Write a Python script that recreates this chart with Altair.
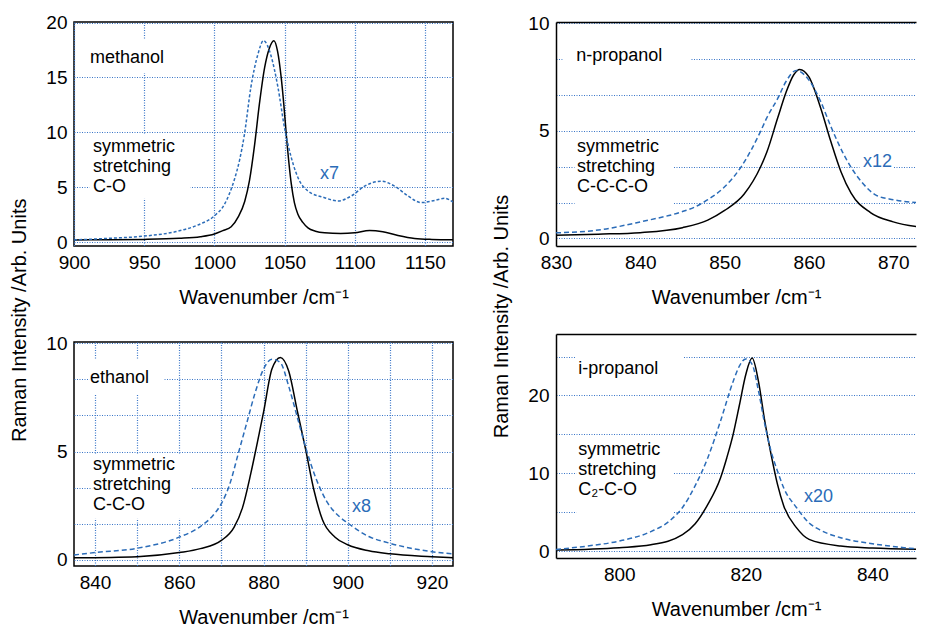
import altair as alt
import pandas as pd

FONT = "Liberation Sans"
BLUE = "#2b6cb8"
GRID = "#3a76c8"
YTITLE = "Raman Intensity /Arb. Units"
XTITLE = "Wavenumber /cm⁻¹"

# ---------------- methanol ----------------
meoh_solid_wn = [900, 925, 950, 975, 990, 1000, 1006, 1012, 1017, 1021.6, 1025, 1028.7, 1032, 1035.8,
                 1039, 1042.4, 1045, 1047.6, 1049.5, 1051.2, 1054.8, 1057, 1059.5, 1063, 1066.7, 1072,
                 1078.5, 1090, 1100, 1110.6, 1120, 1130.8, 1142.6, 1155, 1170]
meoh_solid_i = [0.2, 0.22, 0.25, 0.35, 0.5, 0.75, 1.05, 1.4, 2.3, 3.7, 5.6, 8.9, 12.5, 15.9,
                17.6, 18.35, 17.4, 15.0, 12.5, 9.85, 5.3, 3.6, 2.55, 1.8, 1.3, 1.0,
                0.85, 0.78, 0.85, 1.07, 0.95, 0.6, 0.33, 0.25, 0.22]
meoh_dash_wn = [900, 925, 950, 974, 988, 1000, 1007, 1014, 1018, 1021.4, 1026, 1031, 1035, 1040.3,
                1045.3, 1050, 1054.8, 1060.6, 1066.7, 1078.5, 1088, 1097.5, 1107, 1119, 1128.4, 1138,
                1147.4, 1157, 1164, 1170]
meoh_dash_i = [0.2, 0.35, 0.55, 1.0, 1.55, 2.4, 3.4, 5.6, 7.5, 9.8, 14.1, 17.1, 18.35, 17.0,
               14.1, 10.4, 7.7, 5.6, 4.65, 4.05, 3.75, 4.2, 5.1, 5.55, 5.1, 4.2,
               3.6, 3.8, 4.0, 3.65]

# ---------------- n-propanol ----------------
npr_solid_wn = [830, 835, 840, 845, 848, 850, 852.3, 854.3, 855, 856.3, 857.3, 858.2, 858.9, 860,
                861.4, 862.6, 863.8, 865, 867.3, 870, 873.7]
npr_solid_i = [0.15, 0.2, 0.27, 0.5, 0.85, 1.3, 2.05, 3.35, 4.0, 5.6, 6.8, 7.6, 7.85, 7.5,
               6.05, 4.5, 3.1, 2.1, 1.2, 0.77, 0.5]
npr_dash_wn = [830, 835, 840, 845, 846.4, 848, 850, 852, 854.3, 855, 856.3, 857.3, 858.5, 860, 861.4,
               862.6, 864, 865, 866.3, 868, 870, 873.7]
npr_dash_i = [0.26, 0.39, 0.77, 1.25, 1.45, 1.8, 2.4, 3.35, 5.0, 5.6, 6.5, 7.3, 7.8, 7.35, 6.35,
              5.2, 4.0, 3.3, 2.6, 2.0, 1.8, 1.65]

# ---------------- ethanol ----------------
eth_solid_wn = [835, 850, 860, 865, 870, 873, 875, 877, 879, 880, 882, 884, 886, 888, 890, 892,
                894, 897, 900, 905, 910, 920, 925]
eth_solid_i = [0.1, 0.15, 0.34, 0.52, 0.9, 1.5, 2.4, 4.0, 5.85, 6.8, 8.8, 9.34, 8.7, 6.9, 5.1, 3.2,
               1.85, 1.05, 0.7, 0.42, 0.28, 0.15, 0.1]
eth_dash_wn = [835, 840, 850, 860, 865, 868, 870, 872, 874, 876, 878, 880, 882, 884, 886, 888, 890,
               892, 895, 898, 900, 905, 910, 915, 920, 925]
eth_dash_i = [0.23, 0.34, 0.54, 1.05, 1.54, 2.05, 2.6, 3.5, 4.9, 6.3, 7.7, 8.8, 9.26, 9.1, 8.0, 6.6, 5.2,
              4.0, 2.7, 2.0, 1.7, 1.08, 0.77, 0.54, 0.38, 0.28]

# ---------------- i-propanol ----------------
ipr_solid_wn = [790, 800, 805, 810, 812, 814, 816, 817, 818, 819, 820, 821, 822, 823, 824, 825,
                826, 828, 830, 835, 840, 848]
ipr_solid_i = [0.13, 0.43, 0.8, 2.1, 3.5, 6.0, 9.4, 12.0, 15.0, 18.8, 22.7, 24.8, 21.8, 16.7, 12.4, 8.6,
               5.8, 3.0, 1.5, 0.64, 0.39, 0.21]
ipr_dash_wn = [790, 795, 800, 805, 808, 810, 812, 814, 816, 818, 819, 820, 821, 822, 823, 824, 825,
               826, 828, 830, 832, 835, 840, 845, 848]
ipr_dash_i = [0.2, 0.64, 1.28, 2.5, 3.9, 5.6, 8.4, 12.0, 16.7, 21.8, 23.8, 24.7, 24.0, 20.6, 16.3, 12.8, 10.3,
              8.1, 5.6, 3.6, 2.6, 1.7, 0.94, 0.43, 0.21]

# ---------------- axes: grid positions and labelled ticks ----------------
meoh_xgrid = [900, 950, 1000, 1050, 1100, 1150]
meoh_xlab = [900, 950, 1000, 1050, 1100, 1150]
meoh_ygrid = [0, 5, 10, 15, 20]
meoh_ylab = [0, 5, 10, 15, 20]

npr_xgrid = [830, 835, 840, 845, 850, 855, 860, 865, 870]
npr_xlab = [830, 840, 850, 860, 870]
npr_ygrid = [0, 1.6667, 3.3333, 5, 6.6667, 8.3333, 10]
npr_ylab = [0, 5, 10]

eth_xgrid = [840, 850, 860, 870, 880, 890, 900, 910, 920]
eth_xlab = [840, 860, 880, 900, 920]
eth_ygrid = [0, 1.6667, 3.3333, 5, 6.6667, 8.3333, 10]
eth_ylab = [0, 5, 10]

ipr_xgrid = [800, 810, 820, 830, 840]
ipr_xlab = [800, 820, 840]
ipr_ygrid = [0, 5, 10, 15, 20, 25]
ipr_ylab = [0, 10, 20]

# ---------------- annotations ----------------
meoh_text = [("methanol", 911.4, 16.35, "black"),
             ("symmetric\nstretching\nC-O", 913.5, 8.22, "black"),
             ("x7", 1075.2, 5.75, BLUE)]
meoh_box = [(907, 973, 15.4, 18.5), (911, 983, 3.95, 9.8)]

npr_text = [("n-propanol", 832.4, 8.22, "black"),
            ("symmetric\nstretching\nC-C-C-O", 832.5, 4.02, "black"),
            ("x12", 866.4, 3.32, BLUE)]
npr_box = [(830.8, 846.0, 7.8, 8.97), (832.2, 844.0, 1.55, 4.9), (866.0, 870.0, 3.1, 4.05)]

eth_text = [("ethanol", 838.8, 8.16, "black"),
            ("symmetric\nstretching\nC-C-O", 839.5, 4.15, "black"),
            ("x8", 901.0, 2.21, BLUE)]
eth_box = [(838.6, 856.4, 7.65, 9.26), (839.3, 862.8, 1.9, 4.88), (900.6, 908.6, 1.95, 3.1)]

ipr_text = [("i-propanol", 793.5, 22.7, "black"),
            ("symmetric\nstretching\nC₂-C-O", 793.5, 12.3, "black"),
            ("x20", 829.2, 6.3, BLUE)]
ipr_box = [(793.0, 810.1, 21.3, 25.8), (793.2, 808.6, 4.6, 14.5), (828.8, 834.6, 5.6, 8.8)]


def label_expr(labels):
    return ("indexof([" + ",".join(str(v) for v in labels) +
            "], datum.value) >= 0 ? format(datum.value, 'd') : ''")


def panel(sw, si, dw, di, xdom, ydom, xgrid, xlab, ygrid, ylab, texts, boxes, width, right, dash):
    solid = pd.DataFrame({"wn": sw, "i": si})
    dashed = pd.DataFrame({"wn": dw, "i": di})
    tdf = pd.DataFrame(texts, columns=["t", "x", "y", "c"])
    bdf = pd.DataFrame(boxes, columns=["x0", "x1", "y0", "y1"])
    xs = alt.Scale(domain=xdom, nice=False, zero=False)
    ys = alt.Scale(domain=ydom, nice=False, zero=False)
    dom = dict(domain=True, domainColor="black", domainWidth=1.5) if right else {}
    xaxis = alt.Axis(values=xgrid, labelExpr=label_expr(xlab), format="d", title=XTITLE,
                     labelOverlap=False, **dom)
    yaxis = alt.Axis(values=ygrid, labelExpr=label_expr(ylab), format="d", title=None,
                     labelOverlap=False, **dom)
    rects = alt.Chart(bdf).mark_rect(fill="white").encode(
        x=alt.X("x0:Q", scale=xs, axis=xaxis), x2="x1:Q",
        y=alt.Y("y0:Q", scale=ys, axis=yaxis), y2="y1:Q")
    l1 = alt.Chart(solid).mark_line(color="black", strokeWidth=1.5, interpolate="monotone", clip=True).encode(
        x=alt.X("wn:Q", scale=xs, axis=xaxis), y=alt.Y("i:Q", scale=ys, axis=yaxis))
    l2 = alt.Chart(dashed).mark_line(color=BLUE, strokeWidth=1.5, strokeDash=dash, interpolate="monotone",
                                     clip=True).encode(
        x=alt.X("wn:Q", scale=xs, axis=xaxis), y=alt.Y("i:Q", scale=ys, axis=yaxis))
    txt = alt.Chart(tdf).mark_text(align="left", baseline="alphabetic", lineBreak="\n", lineHeight=20,
                                   fontSize=18, font=FONT).encode(
        x=alt.X("x:Q", scale=xs, axis=xaxis), y=alt.Y("y:Q", scale=ys, axis=yaxis),
        text="t:N", color=alt.Color("c:N", scale=None))
    inner = alt.layer(rects, l1, l2, txt)
    if right:
        top = alt.Chart(bdf).mark_rect(opacity=0).encode(
            x=alt.X("x0:Q", scale=xs, axis=alt.Axis(orient="top", labels=False, grid=False, ticks=False,
                                                    title=None, domain=True, domainColor="black",
                                                    domainWidth=1.5, minExtent=0, labelPadding=0,
                                                    titlePadding=0)),
            y=alt.Y("y0:Q", scale=ys, axis=yaxis))
        return alt.layer(top, inner).resolve_axis(x="independent").properties(
            width=width, height=224, view=alt.ViewBackground(stroke="transparent"))
    return inner.properties(width=width, height=224)


p1 = panel(meoh_solid_wn, meoh_solid_i, meoh_dash_wn, meoh_dash_i, [900, 1170], [-0.35, 20.05],
           meoh_xgrid, meoh_xlab, meoh_ygrid, meoh_ylab, meoh_text, meoh_box, 379, False, [3, 2])
p2 = panel(npr_solid_wn, npr_solid_i, npr_dash_wn, npr_dash_i, [830, 872.7], [-0.35, 10.05],
           npr_xgrid, npr_xlab, npr_ygrid, npr_ylab, npr_text, npr_box, 360, True, [5, 3])
p3 = panel(eth_solid_wn, eth_solid_i, eth_dash_wn, eth_dash_i, [835, 925], [-0.28, 10.05],
           eth_xgrid, eth_xlab, eth_ygrid, eth_ylab, eth_text, eth_box, 379, False, [5, 3])
p4 = panel(ipr_solid_wn, ipr_solid_i, ipr_dash_wn, ipr_dash_i, [790, 846.9], [-0.9, 27.9],
           ipr_xgrid, ipr_xlab, ipr_ygrid, ipr_ylab, ipr_text, ipr_box, 360, True, [5, 3])

ytitle = dict(text=YTITLE, orient="left", anchor="middle", fontSize=20, font=FONT,
              fontWeight="normal", color="black", offset=15)
left = alt.vconcat(p1, p3, spacing=25, title=alt.TitleParams(**ytitle))
rightc = alt.vconcat(p2, p4, spacing=25, title=alt.TitleParams(**ytitle))

chart = alt.hconcat(left, rightc, spacing=38).properties(
    padding={"left": 2, "top": 4, "right": 0, "bottom": 0}
).configure_view(stroke="black", strokeWidth=1.5).configure_axis(
    labelFont=FONT, titleFont=FONT, labelFontSize=19, titleFontSize=20, titleFontWeight="normal",
    labelColor="black", titleColor="black", gridColor=GRID, gridDash=[1, 1.5], gridWidth=1.2,
    gridOpacity=1, ticks=False, domain=False, labelFlush=False, labelPadding=7, titlePadding=15
)

chart.save("out.html", embed_options={"renderer": "svg", "actions": False})
